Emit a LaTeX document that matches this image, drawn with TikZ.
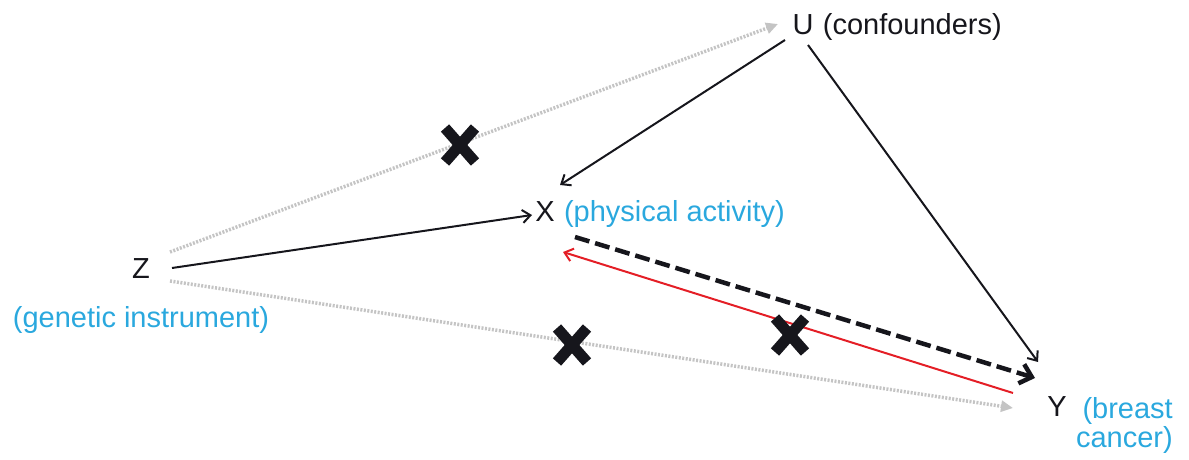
\documentclass[tikz,border=0pt]{standalone}
\usepackage{fontspec}
\setmainfont{Liberation Sans}
\usepackage{tikz}
\usetikzlibrary{calc}
\usetikzlibrary{positioning}
\usetikzlibrary{arrows.meta}
\definecolor{tagblue}{RGB}{42,168,222}
\definecolor{darkink}{RGB}{22,22,28}
\definecolor{palegray}{RGB}{196,196,196}
\definecolor{pathred}{RGB}{228,30,38}
\tikzset{every edge/.style={draw},
  var/.style={inner sep=0pt, font=\fontsize{29}{29}\selectfont, text=darkink},
  tag/.style={inner sep=0pt, font=\fontsize{29}{29}\selectfont, text=tagblue},
  cause/.style={-{Straight Barb[length=8pt,width=13pt]}, line width=2pt, darkink},
  blocked/.style={-{Triangle[length=12pt,width=11pt]}, line width=3.5pt, palegray, dash pattern=on 2pt off 1.5pt},
  claim/.style={-{Straight Barb[length=11pt,width=20pt]}, line width=4.5pt, darkink, dash pattern=on 15pt off 6pt},
  reverse/.style={-{Straight Barb[length=8pt,width=13pt]}, line width=2pt, pathred},
  nogo/.style={line width=11pt, darkink}}

\begin{document}
\begin{tikzpicture}[x=1pt, y=-1pt]
  \useasboundingbox (0,0) rectangle (1189,460);

  \node[var] at (803, 25) (U) {U};
  \node[var] at (545, 212) (X) {X};
  \node[var] at (141, 269) (Z) {Z};
  \node[var] at (1057, 407) (Y) {Y};

  \node[var, base right=9pt of U] (Ulab) {(confounders)};
  \node[tag, base right=9pt of X] (Xlab) {(physical activity)};
  \node[tag, below=27pt of Z] (Zlab) {(genetic instrument)};
  \node[tag, right=9pt of Y.north east, anchor=north west, align=right] (Ylab) {(breast\\cancer)};

  \draw ($(Z)+(29,-17)$) edge[blocked] ($(U)+(-25,-1)$);
  \draw ($(Z)+(29,12)$) edge[blocked] ($(Y)+(-44,1)$);

  \draw ($(Z)+(31,-1)$) edge[cause] ($(X)+(-13,3)$);
  \draw ($(U)+(-18,15)$) edge[cause] ($(X)+(15,-27)$);
  \draw ($(U)+(5,20)$) edge[cause] ($(Y)+(-19,-45)$);

  \draw ($(X)+(30,25)$) edge[claim] ($(Y)+(-22,-29)$);
  \draw ($(Y)+(-44,-14)$) edge[reverse] ($(X)+(18,40)$);

  \foreach \x/\y in {460/145, 572/345, 790/335}
    \draw[nogo] (\x,\y) +(-15,-17) -- +(15,17) (\x,\y) +(-15,17) -- +(15,-17);
\end{tikzpicture}
\end{document}
